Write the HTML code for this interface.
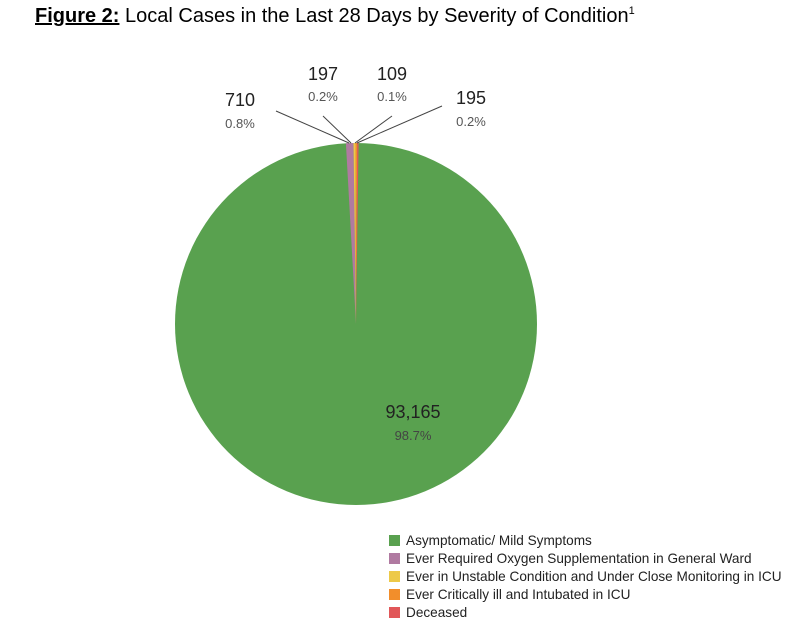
<!DOCTYPE html>
<html><head><style>
body{margin:0;background:#fff;width:800px;height:631px;overflow:hidden;font-family:"Liberation Sans",sans-serif;}
</style></head><body>
<svg width="800" height="631" xmlns="http://www.w3.org/2000/svg" font-family="Liberation Sans, DejaVu Sans, sans-serif">
<text x="35" y="22" font-size="20" fill="#000"><tspan font-weight="bold" text-decoration="underline">Figure 2:</tspan> Local Cases in the Last 28 Days by Severity of Condition<tspan font-size="11" dy="-8">1</tspan></text>
<circle cx="356" cy="324" r="181" fill="#59a14f"/>
<path d="M356,324 L345.9,143.3 A181,181 0 0 1 353.5,143 Z" fill="#b07aa1"/>
<path d="M356,324 L353.5,143 A181,181 0 0 1 355.5,143 Z" fill="#edc948"/>
<path d="M356,324 L355.5,143 A181,181 0 0 1 357.2,143 Z" fill="#f28e2b"/>
<path d="M356,324 L357.2,143 A181,181 0 0 1 358.6,143 Z" fill="#e15759"/>
<g stroke="#444" stroke-width="1">
<line x1="276" y1="111" x2="349" y2="143"/>
<line x1="323" y1="116" x2="351" y2="143"/>
<line x1="392" y1="116" x2="355" y2="143"/>
<line x1="442" y1="106" x2="357" y2="143"/>
</g>
<g text-anchor="middle">
<text x="240" y="106" font-size="18" fill="#222">710</text>
<text x="240" y="128" font-size="13" fill="#555">0.8%</text>
<text x="323" y="80" font-size="18" fill="#222">197</text>
<text x="323" y="101" font-size="13" fill="#555">0.2%</text>
<text x="392" y="80" font-size="18" fill="#222">109</text>
<text x="392" y="101" font-size="13" fill="#555">0.1%</text>
<text x="471" y="104" font-size="18" fill="#222">195</text>
<text x="471" y="126" font-size="13" fill="#555">0.2%</text>
<text x="413" y="418" font-size="18" fill="#222">93,165</text>
<text x="413" y="440" font-size="13" fill="#444">98.7%</text>
</g>
<g font-size="13.6" fill="#222">
<rect x="389" y="535" width="11" height="11" fill="#59a14f"/><text x="406" y="545">Asymptomatic/ Mild Symptoms</text>
<rect x="389" y="553" width="11" height="11" fill="#b07aa1"/><text x="406" y="563">Ever Required Oxygen Supplementation in General Ward</text>
<rect x="389" y="571" width="11" height="11" fill="#edc948"/><text x="406" y="581">Ever in Unstable Condition and Under Close Monitoring in ICU</text>
<rect x="389" y="589" width="11" height="11" fill="#f28e2b"/><text x="406" y="599">Ever Critically ill and Intubated in ICU</text>
<rect x="389" y="607" width="11" height="11" fill="#e15759"/><text x="406" y="617">Deceased</text>
</g>
</svg>
</body></html>
